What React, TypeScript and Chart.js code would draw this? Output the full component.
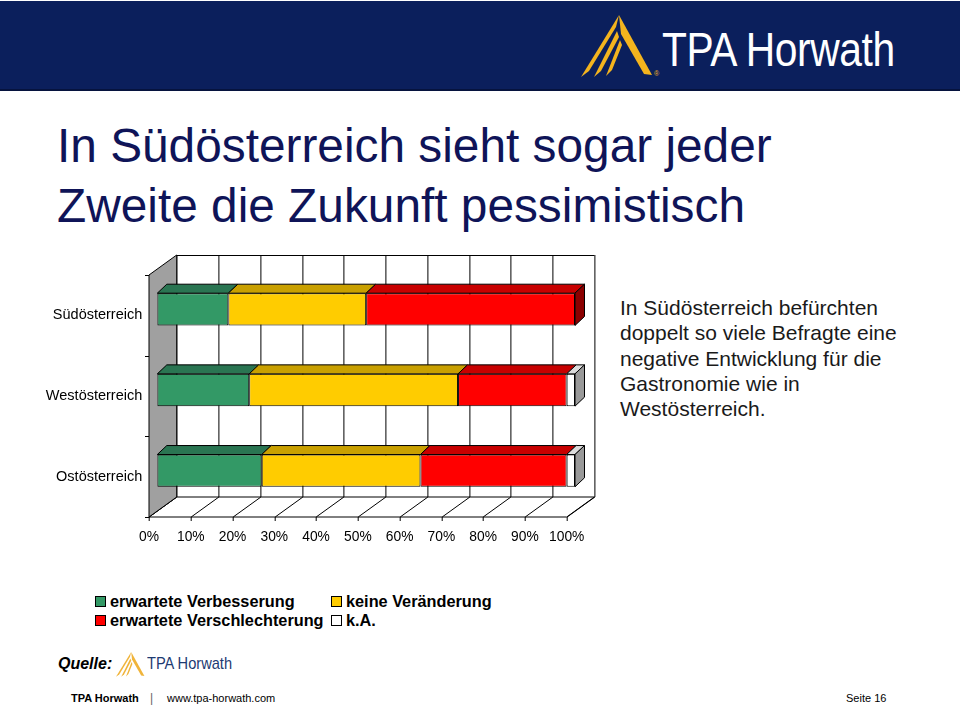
import React, { useEffect, useRef } from "react";
import { Chart, registerables } from "chart.js";

Chart.register(...registerables);

const categories = ["Südösterreich", "Westösterreich", "Ostösterreich"];
const verbesserung = [17, 22, 25];
const keineVeraenderung = [33, 50, 38];
const verschlechterung = [50, 26, 35];
const keineAngabe = [0, 2, 2];
const xTickValues = [0, 10, 20, 30, 40, 50, 60, 70, 80, 90, 100];

const seriesNames = [
  "erwartete Verbesserung",
  "keine Veränderung",
  "erwartete Verschlechterung",
  "k.A.",
];
const frontColors = ["#339966", "#ffcc00", "#ff0000", "#ffffff"];
const topColors = ["#2a7552", "#c9a000", "#c80000", "#dcdcdc"];
const sideColors = ["#1f5a3e", "#9c7c00", "#8b0000", "#999999"];

const FONT = "Arial, 'Liberation Sans', Helvetica, sans-serif";

// 3D geometry relative to the bar plane
const FX = -8.3, FY = 6; // front plane offset
const BX = 19.4, BY = -14; // back plane offset
const BDX = 9.5, BDY = -9; // bar depth

const threeD = {
  id: "threeD",
  beforeDatasetsDraw(chart: any) {
    const ctx = chart.ctx;
    const xs = chart.scales.x;
    const ys = chart.scales.y;
    const { left: L, right: R, top: T, bottom: B } = chart.chartArea;
    ctx.save();
    ctx.lineWidth = 1;
    ctx.strokeStyle = "#000";
    // floor
    ctx.fillStyle = "#fff";
    ctx.beginPath();
    ctx.moveTo(L + FX, B + FY);
    ctx.lineTo(R + FX, B + FY);
    ctx.lineTo(R + BX, B + BY);
    ctx.lineTo(L + BX, B + BY);
    ctx.closePath();
    ctx.fill();
    ctx.stroke();
    // back wall grid
    xTickValues.forEach((v) => {
      const px = Math.round(xs.getPixelForValue(v)) + 0.5;
      ctx.beginPath();
      ctx.moveTo(px + BX, T + BY);
      ctx.lineTo(px + BX, B + BY);
      ctx.stroke();
      ctx.beginPath();
      ctx.moveTo(px + FX, B + FY);
      ctx.lineTo(px + BX, B + BY);
      ctx.stroke();
      ctx.beginPath();
      ctx.moveTo(px + FX, B + FY);
      ctx.lineTo(px + FX, B + FY + 4);
      ctx.stroke();
    });
    ctx.beginPath();
    ctx.moveTo(L + BX, Math.round(T + BY) + 0.5);
    ctx.lineTo(R + BX, Math.round(T + BY) + 0.5);
    ctx.stroke();
    // left wall
    ctx.fillStyle = "#a0a0a0";
    ctx.beginPath();
    ctx.moveTo(L + FX, T + FY);
    ctx.lineTo(L + BX, T + BY);
    ctx.lineTo(L + BX, B + BY);
    ctx.lineTo(L + FX, B + FY);
    ctx.closePath();
    ctx.fill();
    ctx.stroke();
    // left ticks at category boundaries
    const n = categories.length;
    const bounds: number[] = [T];
    for (let i = 1; i < n; i++) {
      bounds.push((ys.getPixelForValue(i - 1) + ys.getPixelForValue(i)) / 2);
    }
    bounds.push(B);
    bounds.forEach((yb) => {
      const yy = Math.round(yb + FY) + 0.5;
      ctx.beginPath();
      ctx.moveTo(L + FX - 4, yy);
      ctx.lineTo(L + FX, yy);
      ctx.stroke();
    });
    ctx.restore();
  },
  afterDatasetsDraw(chart: any) {
    const ctx = chart.ctx;
    ctx.save();
    ctx.lineWidth = 1;
    ctx.strokeStyle = "#000";
    const nd = chart.data.datasets.length;
    for (let i = 0; i < categories.length; i++) {
      let last = -1;
      for (let d = 0; d < nd; d++) {
        const el = chart.getDatasetMeta(d).data[i];
        const p = el.getProps(["x", "y", "base", "height"], true);
        if (Math.abs(p.x - p.base) < 0.5) continue;
        last = d;
        const top = p.y - p.height / 2;
        ctx.fillStyle = topColors[d];
        ctx.beginPath();
        ctx.moveTo(p.base, top);
        ctx.lineTo(p.x, top);
        ctx.lineTo(p.x + BDX, top + BDY);
        ctx.lineTo(p.base + BDX, top + BDY);
        ctx.closePath();
        ctx.fill();
        ctx.stroke();
      }
      if (last >= 0) {
        const el = chart.getDatasetMeta(last).data[i];
        const p = el.getProps(["x", "y", "base", "height"], true);
        const top = p.y - p.height / 2;
        const bot = p.y + p.height / 2;
        ctx.fillStyle = sideColors[last];
        ctx.beginPath();
        ctx.moveTo(p.x, top);
        ctx.lineTo(p.x + BDX, top + BDY);
        ctx.lineTo(p.x + BDX, bot + BDY);
        ctx.lineTo(p.x, bot);
        ctx.closePath();
        ctx.fill();
        ctx.stroke();
      }
    }
    ctx.restore();
  },
};

function BarChart() {
  const ref = useRef<HTMLCanvasElement>(null);
  useEffect(() => {
    if (!ref.current) return;
    const values = [verbesserung, keineVeraenderung, verschlechterung, keineAngabe];
    const chart = new Chart(ref.current, {
      type: "bar",
      data: {
        labels: categories,
        datasets: values.map((v, k) => ({
          label: seriesNames[k],
          data: v,
          backgroundColor: frontColors[k],
          borderColor: "#000",
          borderWidth: 1,
          borderSkipped: false,
          barPercentage: 0.4,
          categoryPercentage: 1,
        })),
      },
      options: {
        indexAxis: "y",
        responsive: false,
        animation: false,
        devicePixelRatio: 1,
        layout: { padding: { left: 0, right: 45, top: 29, bottom: 19 } },
        plugins: { legend: { display: false }, tooltip: { enabled: false } },
        scales: {
          x: {
            stacked: true,
            min: 0,
            max: 100,
            grid: { display: false, drawTicks: false },
            border: { display: false },
            afterBuildTicks: (s: any) => {
              s.ticks = xTickValues.map((v) => ({ value: v }));
            },
            ticks: {
              color: "#000",
              font: { family: FONT, size: 13.8 },
              padding: 18,
              labelOffset: FX,
              maxRotation: 0,
              callback: (v: any) => v + "%",
            },
            afterFit: (s: any) => {
              s.height = 40;
              s.paddingLeft = 0;
              s.paddingRight = 0;
            },
          },
          y: {
            stacked: true,
            grid: { display: false, drawTicks: false },
            border: { display: false },
            ticks: {
              color: "#000",
              font: { family: FONT, size: 14.5 },
              padding: 15,
              labelOffset: FY,
            },
            afterFit: (s: any) => {
              s.width = 157.3;
              s.paddingTop = 0;
              s.paddingBottom = 0;
            },
          },
        },
      },
      plugins: [threeD],
    } as any);
    return () => chart.destroy();
  }, []);
  return (
    <canvas
      ref={ref}
      width={620}
      height={330}
      style={{ position: "absolute", left: 0, top: 240, width: 620, height: 330 }}
    />
  );
}

function Logo({ x, y, s, color }: { x: number; y: number; s: number; color: string }) {
  return (
    <svg
      style={{ position: "absolute", left: x, top: y, overflow: "visible" }}
      width={72 * s}
      height={64 * s}
      viewBox="0 0 72 64"
    >
      <polygon points="38,0 71,60 63,59 40,19" fill={color} />
      <polygon points="38,0 0,62 8,56 35,12" fill={color} />
      <polygon points="36,16 13,62 20,56 38,22" fill={color} />
      <polygon points="39,25 25,61 31,55 41,30" fill={color} />
    </svg>
  );
}

export default function App() {
  const legendRows = [
    [0, 1],
    [2, 3],
  ];
  return (
    <div
      style={{
        position: "absolute",
        left: 0,
        top: 0,
        width: 960,
        height: 707,
        overflow: "hidden",
        background: "#fff",
        fontFamily: FONT,
      }}
    >
      {/* header band */}
      <div
        style={{
          position: "absolute",
          left: 0,
          top: 1,
          width: 960,
          height: 88,
          background: "#0b1f5c",
          borderBottom: "2px solid #06133e",
        }}
      />
      <Logo x={581} y={15} s={1} color="#f4b41e" />
      <div
        style={{
          position: "absolute",
          left: 662,
          top: 26,
          fontSize: 48,
          lineHeight: "48px",
          color: "#fff",
          whiteSpace: "nowrap",
          transform: "scaleX(0.85)",
          transformOrigin: "left top",
          letterSpacing: -0.5,
        }}
      >
        TPA Horwath
      </div>
      <div style={{ position: "absolute", left: 654, top: 70, fontSize: 7, color: "#f4b41e" }}>®</div>

      {/* title */}
      <div
        style={{
          position: "absolute",
          left: 57,
          top: 116,
          fontSize: 47.8,
          lineHeight: "60px",
          color: "#0f1458",
          whiteSpace: "nowrap",
        }}
      >
        In Südösterreich sieht sogar jeder
        <br />
        Zweite die Zukunft pessimistisch
      </div>

      <BarChart />

      {/* comment text */}
      <div
        style={{
          position: "absolute",
          left: 620,
          top: 295,
          fontSize: 21,
          lineHeight: "25.3px",
          color: "#1a1a1a",
          whiteSpace: "nowrap",
        }}
      >
        In Südösterreich befürchten
        <br />
        doppelt so viele Befragte eine
        <br />
        negative Entwicklung für die
        <br />
        Gastronomie wie in
        <br />
        Westösterreich.
      </div>

      {/* legend */}
      {legendRows.map((row, r) =>
        row.map((k, c) => (
          <div
            key={k}
            style={{
              position: "absolute",
              left: c === 0 ? 95 : 331,
              top: 592 + r * 19.5,
              height: 18,
              display: "flex",
              alignItems: "center",
              whiteSpace: "nowrap",
            }}
          >
            <span
              style={{
                display: "inline-block",
                width: 9,
                height: 9,
                border: "1px solid #000",
                background: frontColors[k],
                marginRight: 4,
              }}
            />
            <span style={{ fontSize: 16.3, fontWeight: "bold", color: "#000" }}>{seriesNames[k]}</span>
          </div>
        ))
      )}

      {/* source */}
      <div
        style={{
          position: "absolute",
          left: 58,
          top: 655,
          fontSize: 16,
          fontWeight: "bold",
          fontStyle: "italic",
          color: "#000",
        }}
      >
        Quelle:
      </div>
      <Logo x={116} y={652} s={0.4} color="#f0b43a" />
      <div
        style={{
          position: "absolute",
          left: 147,
          top: 654,
          fontSize: 17,
          lineHeight: "20px",
          color: "#1d3a72",
          whiteSpace: "nowrap",
          transform: "scaleX(0.86)",
          transformOrigin: "left top",
        }}
      >
        TPA Horwath
      </div>

      {/* footer */}
      <div style={{ position: "absolute", left: 71, top: 692, fontSize: 11, fontWeight: "bold", color: "#000" }}>
        TPA Horwath
      </div>
      <div style={{ position: "absolute", left: 150, top: 691, fontSize: 12, color: "#666" }}>|</div>
      <div style={{ position: "absolute", left: 167, top: 692, fontSize: 11, color: "#000" }}>
        www.tpa-horwath.com
      </div>
      <div style={{ position: "absolute", left: 846, top: 692, fontSize: 11, color: "#000" }}>Seite 16</div>
    </div>
  );
}
